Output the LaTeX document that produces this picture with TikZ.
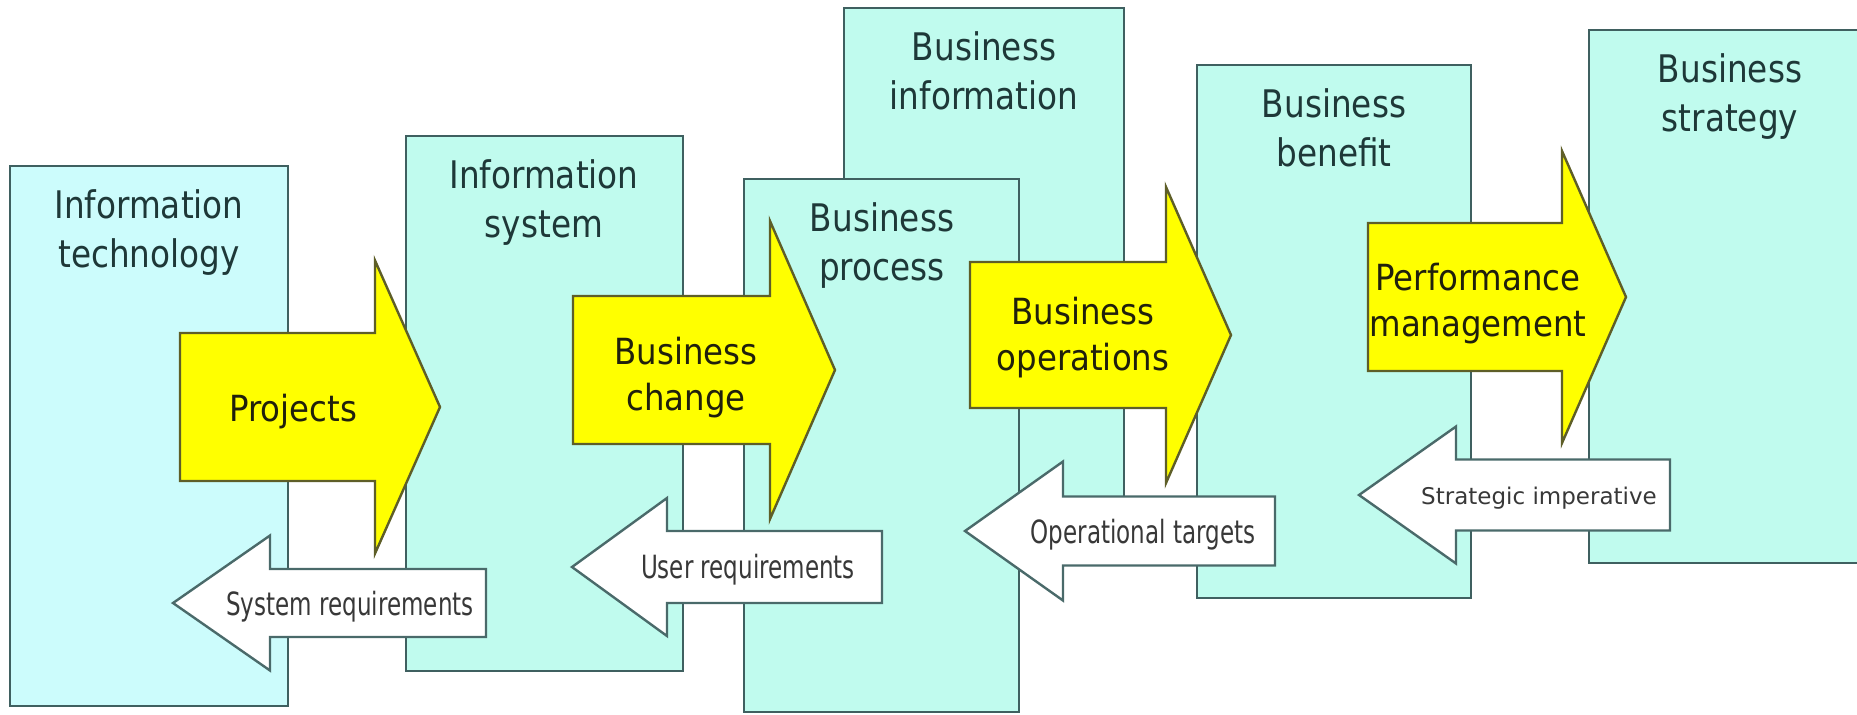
\documentclass[tikz,border=0pt]{standalone}
\usepackage{fontspec}
\newfontfamily\boxfont{DejaVu Sans}[FakeStretch=0.86]
\newfontfamily\arrfont{DejaVu Sans}[FakeStretch=0.9]
\newfontfamily\smfont{DejaVu Sans}[FakeStretch=0.72]
\newfontfamily\smfontb{DejaVu Sans}[FakeStretch=1.0]
\definecolor{boxfill}{HTML}{C0FBEE}
\definecolor{itfill}{HTML}{CCFCFC}
\definecolor{boxline}{HTML}{3F6060}
\definecolor{yfill}{HTML}{FFFF00}
\definecolor{yline}{HTML}{5E5E28}
\definecolor{wline}{HTML}{4A6A6A}
\definecolor{labtxt}{HTML}{1E3838}
\definecolor{arrtxt}{HTML}{20200C}
\definecolor{smtxt}{HTML}{383838}
% right-pointing block arrow: style, tail x, head base x, tip x, centre y, shaft half, head half
\newcommand\myrarrow[7]{%
  \draw[#1] (#2,{#5-#6}) -- (#3,{#5-#6}) -- (#3,{#5-#7}) -- (#4,#5)
    -- (#3,{#5+#7}) -- (#3,{#5+#6}) -- (#2,{#5+#6}) -- cycle;}
% left-pointing block arrow: style, tip x, head base x, right end x, centre y, shaft half, head half
\newcommand\mylarrow[7]{%
  \draw[#1] (#4,{#5-#6}) -- (#3,{#5-#6}) -- (#3,{#5-#7}) -- (#2,#5)
    -- (#3,{#5+#7}) -- (#3,{#5+#6}) -- (#4,{#5+#6}) -- cycle;}
\tikzset{
  blockbox/.style={draw=boxline, fill=boxfill, line width=1.2pt},
  yarrow/.style={draw=yline, fill=yfill, line width=1.2pt, line join=miter},
  warrow/.style={draw=wline, fill=white, line width=1.2pt, line join=miter},
  boxlabel/.style={anchor=north, inner sep=0pt, align=center, text=labtxt,
    font=\boxfont\fontsize{19pt}{24.5pt}\selectfont},
  arrlabel/.style={anchor=north, inner sep=0pt, align=center, text=arrtxt,
    font=\arrfont\fontsize{18pt}{23pt}\selectfont},
  smlabel/.style={anchor=base, inner sep=0pt, text=smtxt,
    font=\smfont\fontsize{16pt}{18pt}\selectfont},
}
\begin{document}
\begin{tikzpicture}[x=0.5pt,y=-0.5pt]
\clip (0,0) rectangle (1857,714);
\fill[white] (0,0) rectangle (1857,714);
% boxes
\draw[blockbox, fill=itfill] (10,166) rectangle (288,706);
\draw[blockbox] (406,136) rectangle (683,671);
\draw[blockbox] (844,8) rectangle (1124,530);
\draw[blockbox] (744,179) rectangle (1019,712);
\draw[blockbox] (1197,65) rectangle (1471,598);
\draw[blockbox] (1589,30) rectangle (1880,563);
\node[boxlabel] (it) at (149,189) {Information\\technology};
\node[boxlabel] (is) at (544,159) {Information\\system};
\node[boxlabel] (bi) at (984,31) {Business\\information};
\node[boxlabel] (bp) at (882,202) {Business\\process};
\node[boxlabel] (bb) at (1334,88) {Business\\benefit};
\node[boxlabel] (bs) at (1730,53) {Business\\strategy};
% forward (yellow) arrows
\myrarrow{yarrow}{180}{375}{440}{407}{74}{146.5}
\myrarrow{yarrow}{573}{770}{835}{370}{74}{149}
\myrarrow{yarrow}{970}{1166}{1231}{335}{73}{148}
\myrarrow{yarrow}{1368}{1562}{1626}{297}{74}{146}
\node[arrlabel] (pr) at (293,394) {Projects};
\node[arrlabel] (bc) at (686,337) {Business\\change};
\node[arrlabel] (bo) at (1083,297) {Business\\operations};
\node[arrlabel] (pm) at (1478,263) {Performance\\management};
% backward (white) arrows
\mylarrow{warrow}{173}{270}{486}{603}{34}{67.5}
\mylarrow{warrow}{572}{667}{882}{567}{36}{69}
\mylarrow{warrow}{965}{1063}{1275}{531}{34.5}{69.5}
\mylarrow{warrow}{1359}{1456}{1670}{495}{35.5}{68.5}
\node[smlabel] (sr) at (350,615) {System requirements};
\node[smlabel] (ur) at (748,578) {User requirements};
\node[smlabel] (ot) at (1143,543) {Operational targets};
\node[smlabel, font=\smfontb\fontsize{11.5pt}{13pt}\selectfont] (si) at (1539,504) {Strategic imperative};
\end{tikzpicture}
\end{document}
